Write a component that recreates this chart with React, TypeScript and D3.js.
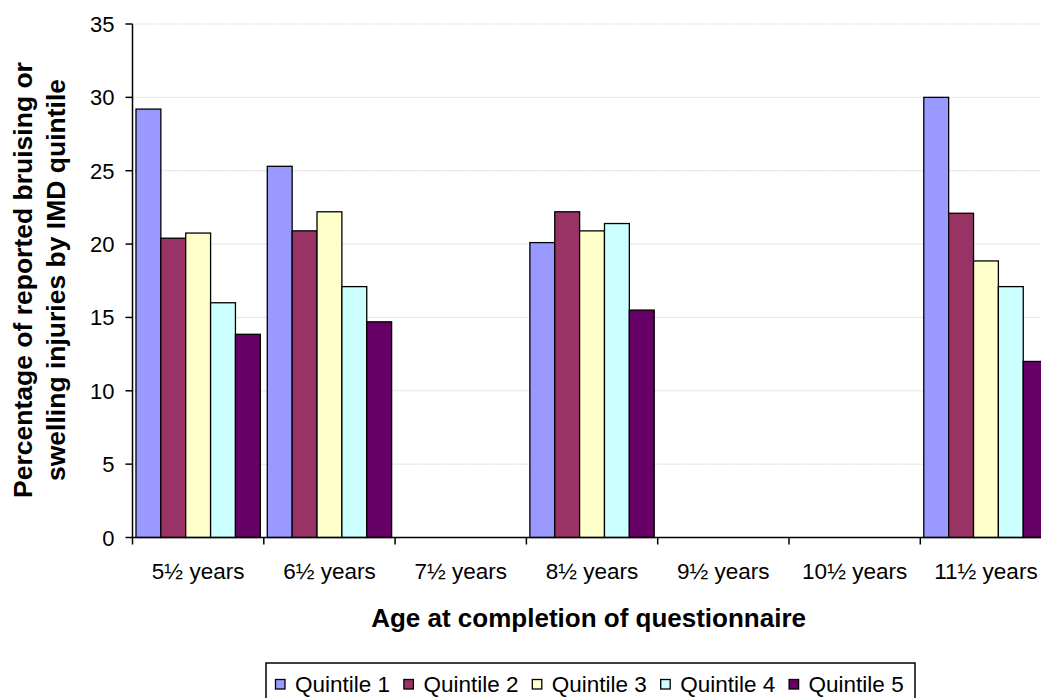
import React from "react";
import * as d3 from "d3";

const categories = ["5½ years", "6½ years", "7½ years", "8½ years", "9½ years", "10½ years", "11½ years"];
const seriesNames = ["Quintile 1", "Quintile 2", "Quintile 3", "Quintile 4", "Quintile 5"];
const colors = ["#9999FF", "#993366", "#FFFFCC", "#CCFFFF", "#660066"];
const quintile1 = [29.2, 25.3, null, 20.1, null, null, 30.0];
const quintile2 = [20.4, 20.9, null, 22.2, null, null, 22.1];
const quintile3 = [20.75, 22.2, null, 20.9, null, null, 18.85];
const quintile4 = [16.0, 17.1, null, 21.4, null, null, 17.1];
const quintile5 = [13.85, 14.7, null, 15.5, null, null, 12.0];
const yTicks = [0, 5, 10, 15, 20, 25, 30, 35];

const series = [quintile1, quintile2, quintile3, quintile4, quintile5];

export default function App() {
  const W = 1041, H = 698;
  const left = 132.5, top = 24, bottom = 537.5;
  const bandW = 131.3;
  const right = left + bandW * categories.length;
  const x = d3.scaleBand<string>().domain(categories).range([left, right]).paddingInner(0).paddingOuter(0);
  const inner = d3.scaleBand<string>().domain(seriesNames).range([0, bandW]).paddingInner(0).paddingOuter(0.14);
  const y = d3.scaleLinear().domain([0, 35]).range([bottom, top]);
  const font = "Arial, 'Liberation Sans', sans-serif";

  const legendX = 266, legendY = 663, legendW = 649, legendH = 42;
  const legendStep = 128.4;
  const legendStart = 275.5;

  return (
    <svg width={W} height={H} style={{ position: "absolute", left: 0, top: 0, background: "#fff" }} fontFamily={font}>
      {yTicks.map((t) => (
        <line key={"g" + t} x1={left} x2={W} y1={y(t)} y2={y(t)} stroke="#d9d9d9" strokeWidth={1} strokeDasharray={t === 0 ? undefined : "2,1"} />
      ))}
      {categories.map((c, ci) =>
        series.map((s, si) => {
          const v = s[ci];
          if (v == null) return null;
          const bx = (x(c) as number) + (inner(seriesNames[si]) as number);
          return (
            <rect key={c + si} x={bx} y={y(v)} width={inner.bandwidth()} height={y(0) - y(v)} fill={colors[si]} stroke="#000" strokeWidth={1.3} />
          );
        })
      )}
      <line x1={left} x2={left} y1={top} y2={bottom} stroke="#000" strokeWidth={1.5} />
      <line x1={left} x2={W} y1={bottom} y2={bottom} stroke="#000" strokeWidth={1.5} />
      {yTicks.map((t) => (
        <g key={"t" + t}>
          <line x1={left - 7} x2={left} y1={y(t)} y2={y(t)} stroke="#000" strokeWidth={1.5} />
          <text x={114.5} y={y(t) + 8} textAnchor="end" fontSize={22}>{t}</text>
        </g>
      ))}
      {d3.range(categories.length + 1).map((i) => (
        <line key={"xt" + i} x1={left + i * bandW} x2={left + i * bandW} y1={bottom} y2={bottom + 7} stroke="#000" strokeWidth={1.5} />
      ))}
      {categories.map((c) => (
        <text key={"xl" + c} x={(x(c) as number) + bandW / 2} y={579} textAnchor="middle" fontSize={22.5}>{c}</text>
      ))}
      <text x={588.6} y={627} textAnchor="middle" fontSize={26} fontWeight="bold">Age at completion of questionnaire</text>
      <g transform="translate(32,280) rotate(-90)">
        <text x={0} y={0} textAnchor="middle" fontSize={26.5} fontWeight="bold">Percentage of reported bruising or</text>
        <text x={0} y={33} textAnchor="middle" fontSize={26.5} fontWeight="bold">swelling injuries by IMD quintile</text>
      </g>
      <rect x={legendX} y={legendY} width={legendW} height={legendH} fill="#fff" stroke="#000" strokeWidth={1.5} />
      {seriesNames.map((name, i) => {
        const lx = legendStart + i * legendStep;
        return (
          <g key={"lg" + i}>
            <rect x={lx} y={679.5} width={9.5} height={9.5} fill={colors[i]} stroke="#000" strokeWidth={1.3} />
            <text x={lx + 19.5} y={691.5} fontSize={22.5}>{name}</text>
          </g>
        );
      })}
    </svg>
  );
}
